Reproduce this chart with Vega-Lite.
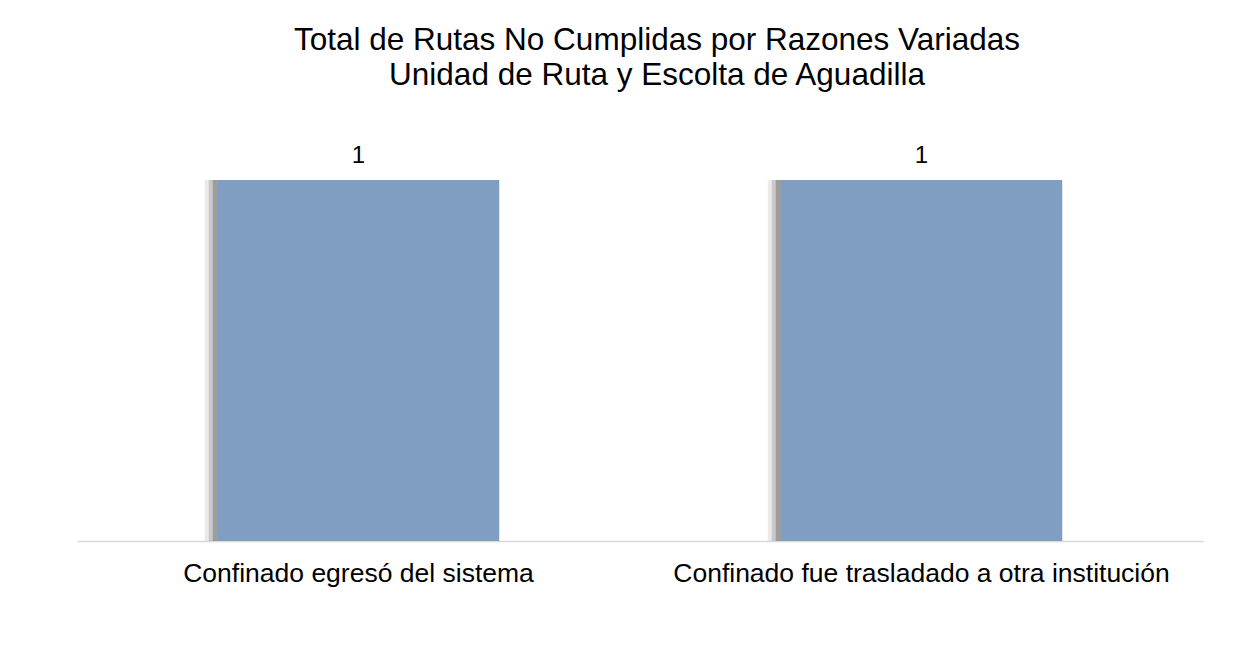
{
  "$schema": "https://vega.github.io/schema/vega-lite/v6.json",
  "autosize": {"type": "none"},
  "width": 1126,
  "height": 361,
  "padding": {"left": 77, "top": 180, "right": 35, "bottom": 129},
  "background": "white",
  "title": {
    "text": ["Total de Rutas No Cumplidas por Razones Variadas", "Unidad de Ruta y Escolta de Aguadilla"],
    "font": "Liberation Sans",
    "fontSize": 31.5,
    "fontWeight": "normal",
    "color": "black",
    "lineHeight": 34.5,
    "anchor": "middle",
    "frame": "group",
    "dx": 17,
    "offset": 53
  },
  "data": {
    "values": [
      {"razon": "Confinado egresó del sistema", "total": 1},
      {"razon": "Confinado fue trasladado a otra institución", "total": 1}
    ]
  },
  "encoding": {
    "x": {
      "field": "razon",
      "type": "nominal",
      "sort": null,
      "scale": {"paddingInner": 0.5, "paddingOuter": 0.25},
      "axis": {
        "title": null,
        "labelAngle": 0,
        "ticks": false,
        "tickSize": 0,
        "labelPadding": 19,
        "labelFont": "Liberation Sans",
        "labelFontSize": 26.5,
        "labelColor": "black",
        "labelLimit": 800,
        "domainColor": "#d9d9d9",
        "domainWidth": 1.5,
        "grid": false
      }
    },
    "y": {
      "field": "total",
      "type": "quantitative",
      "scale": {"domain": [0, 1]},
      "axis": null
    }
  },
  "layer": [
    {"mark": {"type": "bar", "color": "#000000", "opacity": 0.08, "xOffset": -13}},
    {"mark": {"type": "bar", "color": "#000000", "opacity": 0.14, "xOffset": -9}},
    {"mark": {"type": "bar", "color": "#000000", "opacity": 0.22, "xOffset": -5}},
    {"mark": {"type": "bar", "color": "#809EC2"}},
    {
      "mark": {"type": "text", "dy": -17, "baseline": "alphabetic", "align": "center", "fontSize": 24, "font": "Liberation Sans", "color": "black"},
      "encoding": {"text": {"field": "total", "type": "quantitative"}}
    }
  ],
  "config": {"view": {"stroke": null}, "text": {"font": "Liberation Sans"}}
}
